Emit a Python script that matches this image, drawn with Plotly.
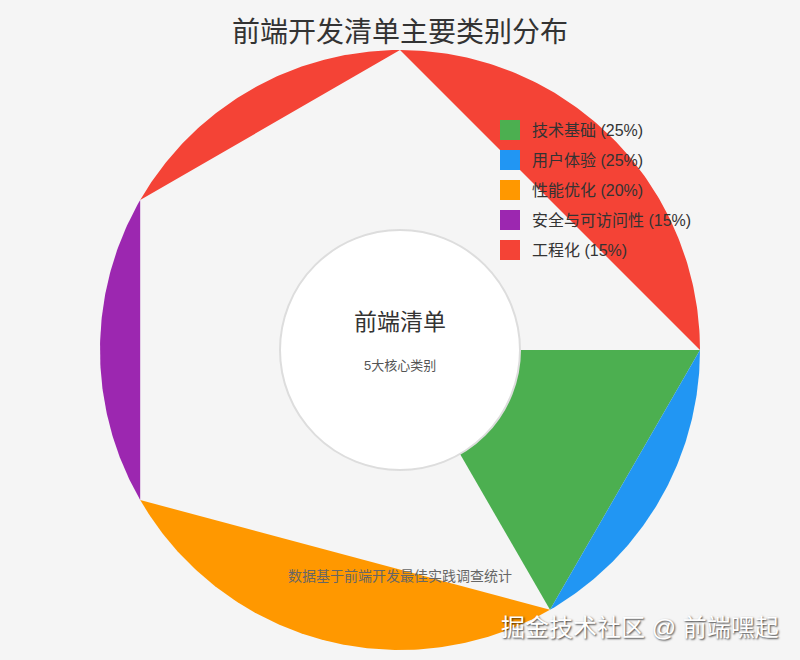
import numpy as np
import plotly.graph_objects as go

# ---- data ----
categories = ["技术基础", "用户体验", "性能优化", "安全与可访问性", "工程化"]
shares = [25, 25, 20, 15, 15]
colors = ["#4CAF50", "#2196F3", "#FF9800", "#9C27B0", "#F44336"]
title_text = "前端开发清单主要类别分布"
center_title = "前端清单"
center_sub = "5大核心类别"
footnote = "数据基于前端开发最佳实践调查统计"
watermark = "掘金技术社区 @ 前端嘿起"

# ---- geometry as rendered in the reference (angles in degrees, clockwise from 3 o'clock) ----
CX, CY, R, R_IN = 400, 350, 300, 120
pieces = {
    "技术基础": [("wedge", 0, 60)],
    "用户体验": [("segment", 0, 60)],
    "性能优化": [("segment", 60, 150)],
    "安全与可访问性": [("segment", 150, 210)],
    "工程化": [("segment", 210, 270), ("segment", 270, 360)],
}


def piece_xy(kind, a0, a1):
    t = np.radians(np.linspace(a0, a1, 120))
    xs = list(CX + R * np.cos(t))
    ys = list(CY + R * np.sin(t))
    if kind == "wedge":
        xs = [CX, xs[0], xs[-1]]
        ys = [CY, ys[0], ys[-1]]
    return xs + [xs[0]], ys + [ys[0]]


fig = go.Figure()
for cat, col in zip(categories, colors):
    X, Y = [], []
    for kind, a0, a1 in pieces[cat]:
        xs, ys = piece_xy(kind, a0, a1)
        X += xs + [None]
        Y += ys + [None]
    fig.add_trace(go.Scatter(x=X, y=Y, mode="lines", fill="toself", fillcolor=col,
                             line=dict(width=0, color=col), hoverinfo="skip",
                             showlegend=False))

# inner circle
fig.add_shape(type="circle", xref="x", yref="y",
              x0=CX - R_IN, x1=CX + R_IN, y0=CY - R_IN, y1=CY + R_IN,
              fillcolor="white", line=dict(color="#dddddd", width=2), layer="above")

# legend (manual)
LX, LY0, LDY = 510, 130, 30
fig.add_trace(go.Scatter(x=[LX] * len(categories),
                         y=[LY0 + i * LDY for i in range(len(categories))],
                         mode="markers",
                         marker=dict(symbol="square", size=20, color=colors, line=dict(width=0)),
                         hoverinfo="skip", showlegend=False))
FONT = "Liberation Sans, Arial, Noto Sans CJK SC, sans-serif"
anns = []
for i, (cat, s) in enumerate(zip(categories, shares)):
    anns.append(dict(x=LX + 20, y=LY0 + i * LDY, xref="x", yref="y", text=f"{cat} ({s}%)",
                     showarrow=False, xanchor="left", yanchor="middle",
                     font=dict(size=16, color="#333333")))

anns += [
    dict(x=400, y=32, xref="x", yref="y", text=title_text, showarrow=False,
         xanchor="center", yanchor="middle", font=dict(size=28, color="#333333")),
    dict(x=CX, y=322, xref="x", yref="y", text=center_title, showarrow=False,
         xanchor="center", yanchor="middle", font=dict(size=23, color="#333333")),
    dict(x=CX, y=365, xref="x", yref="y", text=center_sub, showarrow=False,
         xanchor="center", yanchor="middle", font=dict(size=13, color="#555555")),
    dict(x=CX, y=576, xref="x", yref="y", text=footnote, showarrow=False,
         xanchor="center", yanchor="middle", font=dict(size=14, color="#666666")),
    dict(x=781, y=627, xref="x", yref="y", text=watermark, showarrow=False,
         xanchor="right", yanchor="middle",
         font=dict(size=24, color="#ffffff", shadow="1px 1px 2px rgba(0,0,0,0.75)")),
]

fig.update_layout(
    width=800, height=660, autosize=False,
    margin=dict(l=0, r=0, t=0, b=0),
    paper_bgcolor="#f5f5f5", plot_bgcolor="#f5f5f5",
    font=dict(family=FONT),
    xaxis=dict(range=[0, 800], visible=False, fixedrange=True),
    yaxis=dict(range=[660, 0], visible=False, fixedrange=True),
    annotations=anns,
    showlegend=False,
)

fig.write_html("out.html", config={"displayModeBar": False},
               post_script="document.body.style.margin='0';document.body.style.background='#f5f5f5';")
